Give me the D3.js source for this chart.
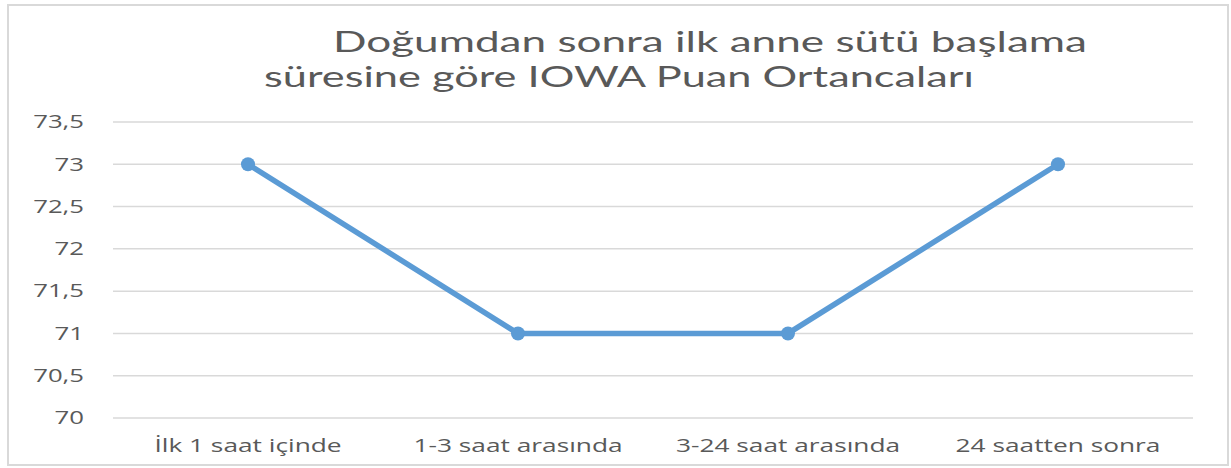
<!DOCTYPE html>
<html>
<head>
<meta charset="utf-8">
<script src="https://cdn.jsdelivr.net/npm/d3@7"></script>
<style>
  body { margin: 0; background: #fff; }
  text { font-family: "Open Sans", sans-serif; fill: #595959; }
</style>
</head>
<body>
<div id="chart"></div>
<script>
// data
var categories = ["İlk 1 saat içinde", "1-3 saat arasında", "3-24 saat arasında", "24 saatten sonra"];
var values = [73, 71, 71, 73];
var yTicks = [70, 70.5, 71, 71.5, 72, 72.5, 73, 73.5];
var titleLines = ["Doğumdan sonra ilk anne sütü başlama", "süresine göre IOWA Puan Ortancaları"];

var W = 1231, H = 468;
var margin = { top: 122, right: 38, bottom: 50, left: 113 },
    width = W - margin.left - margin.right,
    height = H - margin.top - margin.bottom;

var svg = d3.select("#chart").append("svg")
    .attr("width", W)
    .attr("height", H);

// the source image is stretched sideways, so widen text to match
function stretch(sel, k) {
  sel.each(function () {
    var len = this.getComputedTextLength();
    d3.select(this).attr("textLength", len * k).attr("lengthAdjust", "spacingAndGlyphs");
  });
}

// outer frame
svg.append("rect")
    .attr("x", 8).attr("y", 5)
    .attr("width", 1220).attr("height", 460)
    .attr("fill", "none")
    .attr("stroke", "#d9d9d9")
    .attr("stroke-width", 2);

// title (two lines, offset like the original)
svg.append("text")
    .attr("x", 710).attr("y", 52)
    .attr("text-anchor", "middle")
    .style("font-family", "Lato, sans-serif")
    .style("font-size", "28px")
    .attr("textLength", 754).attr("lengthAdjust", "spacingAndGlyphs")
    .text(titleLines[0]);
svg.append("text")
    .attr("x", 619).attr("y", 87)
    .attr("text-anchor", "middle")
    .style("font-family", "Lato, sans-serif")
    .style("font-size", "28px")
    .attr("textLength", 710).attr("lengthAdjust", "spacingAndGlyphs")
    .text(titleLines[1]);

var g = svg.append("g")
    .attr("transform", "translate(" + margin.left + "," + margin.top + ")");

var x = d3.scaleBand().domain(categories).range([0, width]);
var y = d3.scaleLinear().domain([70, 73.5]).range([height, 0]);

// gridlines
g.selectAll(".grid")
    .data(yTicks)
    .enter().append("line")
    .attr("x1", 0).attr("x2", width)
    .attr("y1", function (d) { return y(d); })
    .attr("y2", function (d) { return y(d); })
    .attr("stroke", "#d9d9d9")
    .attr("stroke-width", 1.5);

// y axis
var yAxis = g.append("g")
    .call(d3.axisLeft(y).tickValues(yTicks).tickSize(0).tickPadding(29)
        .tickFormat(function (d) { return String(d).replace(".", ","); }));
yAxis.select(".domain").remove();
yAxis.selectAll("text").style("font-size", "18px").attr("fill", null);
stretch(yAxis.selectAll("text"), 1.43);

// x axis
var xAxis = g.append("g")
    .attr("transform", "translate(0," + height + ")")
    .call(d3.axisBottom(x).tickSize(0).tickPadding(21));
xAxis.select(".domain").remove();
xAxis.selectAll("text").style("font-size", "18px").attr("fill", null);
stretch(xAxis.selectAll("text"), 1.46);

// line
g.append("path")
    .datum(values)
    .attr("fill", "none")
    .attr("stroke", "#5b9bd5")
    .attr("stroke-width", 5.5)
    .attr("d", d3.line()
        .x(function (d, i) { return x(categories[i]) + x.bandwidth() / 2; })
        .y(function (d) { return y(d); }));

g.selectAll(".dot")
    .data(values)
    .enter().append("circle")
    .attr("cx", function (d, i) { return x(categories[i]) + x.bandwidth() / 2; })
    .attr("cy", function (d) { return y(d); })
    .attr("r", 7)
    .attr("fill", "#5b9bd5");
</script>
</body>
</html>
